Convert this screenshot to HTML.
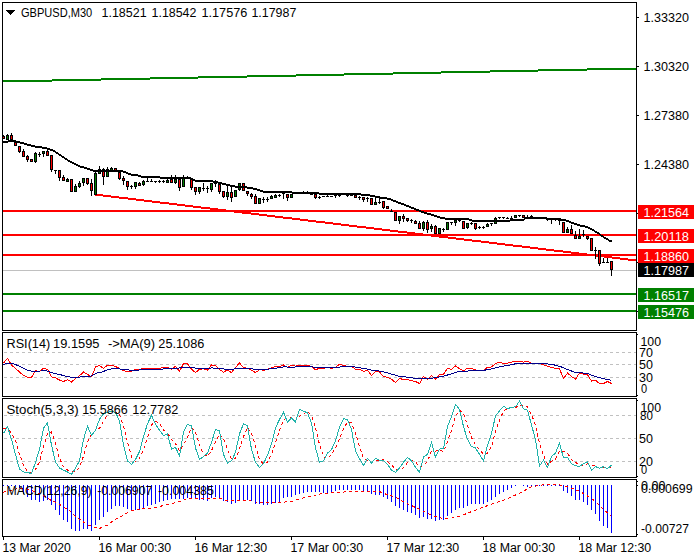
<!DOCTYPE html>
<html lang="en"><head><meta charset="utf-8"><title>GBPUSD,M30</title>
<style>html,body{margin:0;padding:0;background:#fff}svg{display:block}text{font-family:"Liberation Sans",sans-serif;font-size:12px}</style>
</head><body>
<svg width="700" height="560" viewBox="0 0 700 560">
<rect x="0" y="0" width="700" height="560" fill="#fff"/>
<g shape-rendering="crispEdges">
<rect x="3" y="270" width="633" height="1" fill="#c0c0c0"/>
<rect x="3" y="80" width="49" height="2" fill="#008000"/>
<rect x="52" y="79" width="49" height="2" fill="#008000"/>
<rect x="101" y="78" width="49" height="2" fill="#008000"/>
<rect x="150" y="77" width="48" height="2" fill="#008000"/>
<rect x="198" y="76" width="49" height="2" fill="#008000"/>
<rect x="247" y="75" width="49" height="2" fill="#008000"/>
<rect x="296" y="74" width="48" height="2" fill="#008000"/>
<rect x="344" y="73" width="49" height="2" fill="#008000"/>
<rect x="393" y="72" width="48" height="2" fill="#008000"/>
<rect x="441" y="71" width="49" height="2" fill="#008000"/>
<rect x="490" y="70" width="48" height="2" fill="#008000"/>
<rect x="538" y="69" width="49" height="2" fill="#008000"/>
<rect x="587" y="68" width="50" height="2" fill="#008000"/>
<rect x="3" y="210" width="634" height="2" fill="#ff0000"/>
<rect x="3" y="234" width="634" height="2" fill="#ff0000"/>
<rect x="3" y="254" width="634" height="2" fill="#ff0000"/>
<rect x="3" y="293" width="634" height="2" fill="#008000"/>
<rect x="3" y="310" width="634" height="2" fill="#008000"/>
<rect x="95" y="194" width="8" height="2" fill="#ff0000"/>
<rect x="103" y="195" width="8" height="2" fill="#ff0000"/>
<rect x="111" y="196" width="8" height="2" fill="#ff0000"/>
<rect x="119" y="197" width="9" height="2" fill="#ff0000"/>
<rect x="128" y="198" width="8" height="2" fill="#ff0000"/>
<rect x="136" y="199" width="8" height="2" fill="#ff0000"/>
<rect x="144" y="200" width="8" height="2" fill="#ff0000"/>
<rect x="152" y="201" width="8" height="2" fill="#ff0000"/>
<rect x="160" y="202" width="9" height="2" fill="#ff0000"/>
<rect x="169" y="203" width="8" height="2" fill="#ff0000"/>
<rect x="177" y="204" width="8" height="2" fill="#ff0000"/>
<rect x="185" y="205" width="8" height="2" fill="#ff0000"/>
<rect x="193" y="206" width="8" height="2" fill="#ff0000"/>
<rect x="201" y="207" width="9" height="2" fill="#ff0000"/>
<rect x="210" y="208" width="8" height="2" fill="#ff0000"/>
<rect x="218" y="209" width="8" height="2" fill="#ff0000"/>
<rect x="226" y="210" width="8" height="2" fill="#ff0000"/>
<rect x="234" y="211" width="8" height="2" fill="#ff0000"/>
<rect x="242" y="212" width="9" height="2" fill="#ff0000"/>
<rect x="251" y="213" width="8" height="2" fill="#ff0000"/>
<rect x="259" y="214" width="8" height="2" fill="#ff0000"/>
<rect x="267" y="215" width="8" height="2" fill="#ff0000"/>
<rect x="275" y="216" width="8" height="2" fill="#ff0000"/>
<rect x="283" y="217" width="9" height="2" fill="#ff0000"/>
<rect x="292" y="218" width="8" height="2" fill="#ff0000"/>
<rect x="300" y="219" width="8" height="2" fill="#ff0000"/>
<rect x="308" y="220" width="8" height="2" fill="#ff0000"/>
<rect x="316" y="221" width="9" height="2" fill="#ff0000"/>
<rect x="325" y="222" width="8" height="2" fill="#ff0000"/>
<rect x="333" y="223" width="8" height="2" fill="#ff0000"/>
<rect x="341" y="224" width="8" height="2" fill="#ff0000"/>
<rect x="349" y="225" width="8" height="2" fill="#ff0000"/>
<rect x="357" y="226" width="9" height="2" fill="#ff0000"/>
<rect x="366" y="227" width="8" height="2" fill="#ff0000"/>
<rect x="374" y="228" width="8" height="2" fill="#ff0000"/>
<rect x="382" y="229" width="8" height="2" fill="#ff0000"/>
<rect x="390" y="230" width="8" height="2" fill="#ff0000"/>
<rect x="398" y="231" width="9" height="2" fill="#ff0000"/>
<rect x="407" y="232" width="8" height="2" fill="#ff0000"/>
<rect x="415" y="233" width="8" height="2" fill="#ff0000"/>
<rect x="423" y="234" width="8" height="2" fill="#ff0000"/>
<rect x="431" y="235" width="8" height="2" fill="#ff0000"/>
<rect x="439" y="236" width="9" height="2" fill="#ff0000"/>
<rect x="448" y="237" width="8" height="2" fill="#ff0000"/>
<rect x="456" y="238" width="8" height="2" fill="#ff0000"/>
<rect x="464" y="239" width="8" height="2" fill="#ff0000"/>
<rect x="472" y="240" width="9" height="2" fill="#ff0000"/>
<rect x="481" y="241" width="8" height="2" fill="#ff0000"/>
<rect x="489" y="242" width="8" height="2" fill="#ff0000"/>
<rect x="497" y="243" width="8" height="2" fill="#ff0000"/>
<rect x="505" y="244" width="8" height="2" fill="#ff0000"/>
<rect x="513" y="245" width="9" height="2" fill="#ff0000"/>
<rect x="522" y="246" width="8" height="2" fill="#ff0000"/>
<rect x="530" y="247" width="8" height="2" fill="#ff0000"/>
<rect x="538" y="248" width="8" height="2" fill="#ff0000"/>
<rect x="546" y="249" width="8" height="2" fill="#ff0000"/>
<rect x="554" y="250" width="9" height="2" fill="#ff0000"/>
<rect x="563" y="251" width="8" height="2" fill="#ff0000"/>
<rect x="571" y="252" width="8" height="2" fill="#ff0000"/>
<rect x="579" y="253" width="8" height="2" fill="#ff0000"/>
<rect x="587" y="254" width="8" height="2" fill="#ff0000"/>
<rect x="595" y="255" width="9" height="2" fill="#ff0000"/>
<rect x="604" y="256" width="8" height="2" fill="#ff0000"/>
<rect x="612" y="257" width="8" height="2" fill="#ff0000"/>
<rect x="620" y="258" width="8" height="2" fill="#ff0000"/>
<rect x="628" y="259" width="8" height="2" fill="#ff0000"/>
<rect x="636" y="260" width="1" height="2" fill="#ff0000"/>
<rect x="3" y="135" width="1" height="4" fill="#000"/>
<rect x="2" y="136" width="3" height="3" fill="#000"/>
<rect x="3" y="137" width="1" height="1" fill="#ff0000"/>
<rect x="7" y="134" width="1" height="6" fill="#000"/>
<rect x="6" y="135" width="3" height="5" fill="#000"/>
<rect x="7" y="136" width="1" height="3" fill="#008000"/>
<rect x="11" y="133" width="1" height="9" fill="#000"/>
<rect x="10" y="135" width="3" height="5" fill="#000"/>
<rect x="11" y="136" width="1" height="3" fill="#ff0000"/>
<rect x="15" y="142" width="1" height="4" fill="#000"/>
<rect x="14" y="142" width="3" height="4" fill="#000"/>
<rect x="15" y="143" width="1" height="2" fill="#ff0000"/>
<rect x="19" y="146" width="1" height="7" fill="#000"/>
<rect x="18" y="146" width="3" height="6" fill="#000"/>
<rect x="19" y="147" width="1" height="4" fill="#ff0000"/>
<rect x="23" y="149" width="1" height="8" fill="#000"/>
<rect x="22" y="151" width="3" height="6" fill="#000"/>
<rect x="23" y="152" width="1" height="4" fill="#ff0000"/>
<rect x="27" y="155" width="1" height="7" fill="#000"/>
<rect x="26" y="156" width="3" height="4" fill="#000"/>
<rect x="27" y="157" width="1" height="2" fill="#ff0000"/>
<rect x="31" y="159" width="1" height="2" fill="#000"/>
<rect x="30" y="159" width="3" height="3" fill="#000"/>
<rect x="31" y="160" width="1" height="1" fill="#ff0000"/>
<rect x="35" y="152" width="1" height="11" fill="#000"/>
<rect x="34" y="153" width="3" height="9" fill="#000"/>
<rect x="35" y="154" width="1" height="7" fill="#008000"/>
<rect x="39" y="152" width="1" height="5" fill="#000"/>
<rect x="38" y="154" width="3" height="1" fill="#000"/>
<rect x="43" y="151" width="1" height="6" fill="#000"/>
<rect x="42" y="151" width="3" height="3" fill="#000"/>
<rect x="43" y="152" width="1" height="1" fill="#008000"/>
<rect x="47" y="149" width="1" height="7" fill="#000"/>
<rect x="46" y="151" width="3" height="5" fill="#000"/>
<rect x="47" y="152" width="1" height="3" fill="#ff0000"/>
<rect x="51" y="155" width="1" height="17" fill="#000"/>
<rect x="50" y="155" width="3" height="15" fill="#000"/>
<rect x="51" y="156" width="1" height="13" fill="#ff0000"/>
<rect x="55" y="170" width="1" height="4" fill="#000"/>
<rect x="54" y="170" width="3" height="1" fill="#000"/>
<rect x="59" y="170" width="1" height="11" fill="#000"/>
<rect x="58" y="170" width="3" height="8" fill="#000"/>
<rect x="59" y="171" width="1" height="6" fill="#ff0000"/>
<rect x="63" y="175" width="1" height="6" fill="#000"/>
<rect x="62" y="177" width="3" height="4" fill="#000"/>
<rect x="63" y="178" width="1" height="2" fill="#ff0000"/>
<rect x="67" y="178" width="1" height="3" fill="#000"/>
<rect x="66" y="179" width="3" height="3" fill="#000"/>
<rect x="67" y="180" width="1" height="1" fill="#008000"/>
<rect x="71" y="179" width="1" height="13" fill="#000"/>
<rect x="70" y="179" width="3" height="13" fill="#000"/>
<rect x="71" y="180" width="1" height="11" fill="#ff0000"/>
<rect x="75" y="184" width="1" height="8" fill="#000"/>
<rect x="74" y="186" width="3" height="6" fill="#000"/>
<rect x="75" y="187" width="1" height="4" fill="#008000"/>
<rect x="79" y="181" width="1" height="7" fill="#000"/>
<rect x="78" y="183" width="3" height="4" fill="#000"/>
<rect x="79" y="184" width="1" height="2" fill="#008000"/>
<rect x="83" y="178" width="1" height="8" fill="#000"/>
<rect x="82" y="178" width="3" height="5" fill="#000"/>
<rect x="83" y="179" width="1" height="3" fill="#008000"/>
<rect x="87" y="178" width="1" height="7" fill="#000"/>
<rect x="86" y="178" width="3" height="6" fill="#000"/>
<rect x="87" y="179" width="1" height="4" fill="#ff0000"/>
<rect x="91" y="179" width="1" height="17" fill="#000"/>
<rect x="90" y="183" width="3" height="8" fill="#000"/>
<rect x="91" y="184" width="1" height="6" fill="#ff0000"/>
<rect x="95" y="172" width="1" height="23" fill="#000"/>
<rect x="94" y="173" width="3" height="22" fill="#000"/>
<rect x="95" y="174" width="1" height="20" fill="#008000"/>
<rect x="99" y="166" width="1" height="8" fill="#000"/>
<rect x="98" y="169" width="3" height="5" fill="#000"/>
<rect x="99" y="170" width="1" height="3" fill="#008000"/>
<rect x="103" y="168" width="1" height="17" fill="#000"/>
<rect x="102" y="169" width="3" height="8" fill="#000"/>
<rect x="103" y="170" width="1" height="6" fill="#ff0000"/>
<rect x="107" y="167" width="1" height="10" fill="#000"/>
<rect x="106" y="169" width="3" height="8" fill="#000"/>
<rect x="107" y="170" width="1" height="6" fill="#008000"/>
<rect x="111" y="167" width="1" height="3" fill="#000"/>
<rect x="110" y="168" width="3" height="3" fill="#000"/>
<rect x="111" y="169" width="1" height="1" fill="#008000"/>
<rect x="115" y="168" width="1" height="3" fill="#000"/>
<rect x="114" y="168" width="3" height="3" fill="#000"/>
<rect x="115" y="169" width="1" height="1" fill="#ff0000"/>
<rect x="119" y="172" width="1" height="8" fill="#000"/>
<rect x="118" y="172" width="3" height="7" fill="#000"/>
<rect x="119" y="173" width="1" height="5" fill="#ff0000"/>
<rect x="123" y="176" width="1" height="9" fill="#000"/>
<rect x="122" y="178" width="3" height="3" fill="#000"/>
<rect x="123" y="179" width="1" height="1" fill="#ff0000"/>
<rect x="127" y="181" width="1" height="9" fill="#000"/>
<rect x="126" y="181" width="3" height="6" fill="#000"/>
<rect x="127" y="182" width="1" height="4" fill="#ff0000"/>
<rect x="131" y="185" width="1" height="4" fill="#000"/>
<rect x="130" y="186" width="3" height="1" fill="#000"/>
<rect x="135" y="182" width="1" height="7" fill="#000"/>
<rect x="134" y="182" width="3" height="5" fill="#000"/>
<rect x="135" y="183" width="1" height="3" fill="#008000"/>
<rect x="139" y="182" width="1" height="3" fill="#000"/>
<rect x="138" y="183" width="3" height="3" fill="#000"/>
<rect x="139" y="184" width="1" height="1" fill="#ff0000"/>
<rect x="143" y="180" width="1" height="6" fill="#000"/>
<rect x="142" y="181" width="3" height="4" fill="#000"/>
<rect x="143" y="182" width="1" height="2" fill="#008000"/>
<rect x="147" y="178" width="1" height="4" fill="#000"/>
<rect x="146" y="181" width="3" height="1" fill="#000"/>
<rect x="151" y="179" width="1" height="3" fill="#000"/>
<rect x="150" y="181" width="3" height="1" fill="#000"/>
<rect x="155" y="181" width="1" height="2" fill="#000"/>
<rect x="154" y="181" width="3" height="1" fill="#000"/>
<rect x="159" y="180" width="1" height="3" fill="#000"/>
<rect x="158" y="181" width="3" height="1" fill="#000"/>
<rect x="163" y="180" width="1" height="3" fill="#000"/>
<rect x="162" y="181" width="3" height="1" fill="#000"/>
<rect x="167" y="179" width="1" height="4" fill="#000"/>
<rect x="166" y="180" width="3" height="3" fill="#000"/>
<rect x="167" y="181" width="1" height="1" fill="#008000"/>
<rect x="171" y="175" width="1" height="8" fill="#000"/>
<rect x="170" y="179" width="3" height="4" fill="#000"/>
<rect x="171" y="180" width="1" height="2" fill="#ff0000"/>
<rect x="175" y="175" width="1" height="9" fill="#000"/>
<rect x="174" y="179" width="3" height="4" fill="#000"/>
<rect x="175" y="180" width="1" height="2" fill="#008000"/>
<rect x="179" y="179" width="1" height="12" fill="#000"/>
<rect x="178" y="179" width="3" height="9" fill="#000"/>
<rect x="179" y="180" width="1" height="7" fill="#ff0000"/>
<rect x="183" y="175" width="1" height="12" fill="#000"/>
<rect x="182" y="177" width="3" height="10" fill="#000"/>
<rect x="183" y="178" width="1" height="8" fill="#008000"/>
<rect x="187" y="176" width="1" height="2" fill="#000"/>
<rect x="186" y="177" width="3" height="1" fill="#000"/>
<rect x="191" y="178" width="1" height="12" fill="#000"/>
<rect x="190" y="178" width="3" height="10" fill="#000"/>
<rect x="191" y="179" width="1" height="8" fill="#ff0000"/>
<rect x="195" y="187" width="1" height="8" fill="#000"/>
<rect x="194" y="187" width="3" height="5" fill="#000"/>
<rect x="195" y="188" width="1" height="3" fill="#ff0000"/>
<rect x="199" y="187" width="1" height="7" fill="#000"/>
<rect x="198" y="187" width="3" height="5" fill="#000"/>
<rect x="199" y="188" width="1" height="3" fill="#008000"/>
<rect x="203" y="183" width="1" height="8" fill="#000"/>
<rect x="202" y="188" width="3" height="1" fill="#000"/>
<rect x="207" y="186" width="1" height="7" fill="#000"/>
<rect x="206" y="188" width="3" height="1" fill="#000"/>
<rect x="211" y="183" width="1" height="9" fill="#000"/>
<rect x="210" y="183" width="3" height="7" fill="#000"/>
<rect x="211" y="184" width="1" height="5" fill="#008000"/>
<rect x="215" y="180" width="1" height="7" fill="#000"/>
<rect x="214" y="183" width="3" height="1" fill="#000"/>
<rect x="219" y="184" width="1" height="10" fill="#000"/>
<rect x="218" y="184" width="3" height="8" fill="#000"/>
<rect x="219" y="185" width="1" height="6" fill="#ff0000"/>
<rect x="223" y="191" width="1" height="7" fill="#000"/>
<rect x="222" y="191" width="3" height="6" fill="#000"/>
<rect x="223" y="192" width="1" height="4" fill="#ff0000"/>
<rect x="227" y="186" width="1" height="14" fill="#000"/>
<rect x="226" y="192" width="3" height="5" fill="#000"/>
<rect x="227" y="193" width="1" height="3" fill="#008000"/>
<rect x="231" y="187" width="1" height="15" fill="#000"/>
<rect x="230" y="192" width="3" height="6" fill="#000"/>
<rect x="231" y="193" width="1" height="4" fill="#ff0000"/>
<rect x="235" y="190" width="1" height="7" fill="#000"/>
<rect x="234" y="190" width="3" height="7" fill="#000"/>
<rect x="235" y="191" width="1" height="5" fill="#008000"/>
<rect x="239" y="183" width="1" height="8" fill="#000"/>
<rect x="238" y="183" width="3" height="7" fill="#000"/>
<rect x="239" y="184" width="1" height="5" fill="#008000"/>
<rect x="243" y="183" width="1" height="8" fill="#000"/>
<rect x="242" y="183" width="3" height="8" fill="#000"/>
<rect x="243" y="184" width="1" height="6" fill="#ff0000"/>
<rect x="247" y="191" width="1" height="5" fill="#000"/>
<rect x="246" y="191" width="3" height="3" fill="#000"/>
<rect x="247" y="192" width="1" height="1" fill="#ff0000"/>
<rect x="251" y="193" width="1" height="6" fill="#000"/>
<rect x="250" y="194" width="3" height="3" fill="#000"/>
<rect x="251" y="195" width="1" height="1" fill="#ff0000"/>
<rect x="255" y="194" width="1" height="10" fill="#000"/>
<rect x="254" y="196" width="3" height="8" fill="#000"/>
<rect x="255" y="197" width="1" height="6" fill="#ff0000"/>
<rect x="259" y="198" width="1" height="6" fill="#000"/>
<rect x="258" y="198" width="3" height="6" fill="#000"/>
<rect x="259" y="199" width="1" height="4" fill="#008000"/>
<rect x="263" y="197" width="1" height="6" fill="#000"/>
<rect x="262" y="199" width="3" height="1" fill="#000"/>
<rect x="267" y="197" width="1" height="5" fill="#000"/>
<rect x="266" y="199" width="3" height="1" fill="#000"/>
<rect x="271" y="195" width="1" height="3" fill="#000"/>
<rect x="270" y="196" width="3" height="3" fill="#000"/>
<rect x="271" y="197" width="1" height="1" fill="#008000"/>
<rect x="275" y="194" width="1" height="4" fill="#000"/>
<rect x="274" y="195" width="3" height="3" fill="#000"/>
<rect x="275" y="196" width="1" height="1" fill="#008000"/>
<rect x="279" y="194" width="1" height="3" fill="#000"/>
<rect x="278" y="195" width="3" height="1" fill="#000"/>
<rect x="283" y="193" width="1" height="6" fill="#000"/>
<rect x="282" y="193" width="3" height="1" fill="#000"/>
<rect x="287" y="194" width="1" height="7" fill="#000"/>
<rect x="286" y="194" width="3" height="4" fill="#000"/>
<rect x="287" y="195" width="1" height="2" fill="#ff0000"/>
<rect x="291" y="194" width="1" height="4" fill="#000"/>
<rect x="290" y="194" width="3" height="4" fill="#000"/>
<rect x="291" y="195" width="1" height="2" fill="#008000"/>
<rect x="295" y="193" width="1" height="1" fill="#000"/>
<rect x="294" y="193" width="3" height="1" fill="#000"/>
<rect x="299" y="193" width="1" height="1" fill="#000"/>
<rect x="298" y="193" width="3" height="1" fill="#000"/>
<rect x="303" y="191" width="1" height="2" fill="#000"/>
<rect x="302" y="192" width="3" height="1" fill="#000"/>
<rect x="307" y="191" width="1" height="2" fill="#000"/>
<rect x="306" y="192" width="3" height="1" fill="#000"/>
<rect x="311" y="193" width="1" height="2" fill="#000"/>
<rect x="310" y="194" width="3" height="1" fill="#000"/>
<rect x="315" y="194" width="1" height="5" fill="#000"/>
<rect x="314" y="194" width="3" height="4" fill="#000"/>
<rect x="315" y="195" width="1" height="2" fill="#ff0000"/>
<rect x="319" y="196" width="1" height="3" fill="#000"/>
<rect x="318" y="197" width="3" height="1" fill="#000"/>
<rect x="323" y="196" width="1" height="1" fill="#000"/>
<rect x="322" y="196" width="3" height="1" fill="#000"/>
<rect x="327" y="195" width="1" height="2" fill="#000"/>
<rect x="326" y="196" width="3" height="1" fill="#000"/>
<rect x="331" y="196" width="1" height="1" fill="#000"/>
<rect x="330" y="196" width="3" height="1" fill="#000"/>
<rect x="335" y="195" width="1" height="3" fill="#000"/>
<rect x="334" y="195" width="3" height="1" fill="#000"/>
<rect x="339" y="195" width="1" height="2" fill="#000"/>
<rect x="338" y="195" width="3" height="1" fill="#000"/>
<rect x="343" y="194" width="1" height="1" fill="#000"/>
<rect x="342" y="194" width="3" height="1" fill="#000"/>
<rect x="347" y="195" width="1" height="2" fill="#000"/>
<rect x="346" y="195" width="3" height="1" fill="#000"/>
<rect x="351" y="195" width="1" height="1" fill="#000"/>
<rect x="350" y="195" width="3" height="1" fill="#000"/>
<rect x="355" y="195" width="1" height="2" fill="#000"/>
<rect x="354" y="195" width="3" height="3" fill="#000"/>
<rect x="355" y="196" width="1" height="1" fill="#ff0000"/>
<rect x="359" y="196" width="1" height="4" fill="#000"/>
<rect x="358" y="197" width="3" height="1" fill="#000"/>
<rect x="363" y="197" width="1" height="5" fill="#000"/>
<rect x="362" y="197" width="3" height="3" fill="#000"/>
<rect x="363" y="198" width="1" height="1" fill="#ff0000"/>
<rect x="367" y="197" width="1" height="5" fill="#000"/>
<rect x="366" y="198" width="3" height="1" fill="#000"/>
<rect x="371" y="198" width="1" height="7" fill="#000"/>
<rect x="370" y="198" width="3" height="7" fill="#000"/>
<rect x="371" y="199" width="1" height="5" fill="#ff0000"/>
<rect x="375" y="197" width="1" height="7" fill="#000"/>
<rect x="374" y="202" width="3" height="3" fill="#000"/>
<rect x="375" y="203" width="1" height="1" fill="#008000"/>
<rect x="379" y="197" width="1" height="7" fill="#000"/>
<rect x="378" y="202" width="3" height="1" fill="#000"/>
<rect x="383" y="201" width="1" height="8" fill="#000"/>
<rect x="382" y="201" width="3" height="7" fill="#000"/>
<rect x="383" y="202" width="1" height="5" fill="#ff0000"/>
<rect x="387" y="206" width="1" height="3" fill="#000"/>
<rect x="386" y="206" width="3" height="3" fill="#000"/>
<rect x="387" y="207" width="1" height="1" fill="#ff0000"/>
<rect x="391" y="209" width="1" height="3" fill="#000"/>
<rect x="390" y="211" width="3" height="1" fill="#000"/>
<rect x="395" y="212" width="1" height="9" fill="#000"/>
<rect x="394" y="212" width="3" height="9" fill="#000"/>
<rect x="395" y="213" width="1" height="7" fill="#ff0000"/>
<rect x="399" y="216" width="1" height="8" fill="#000"/>
<rect x="398" y="216" width="3" height="5" fill="#000"/>
<rect x="399" y="217" width="1" height="3" fill="#008000"/>
<rect x="403" y="214" width="1" height="8" fill="#000"/>
<rect x="402" y="216" width="3" height="3" fill="#000"/>
<rect x="403" y="217" width="1" height="1" fill="#ff0000"/>
<rect x="407" y="218" width="1" height="4" fill="#000"/>
<rect x="406" y="218" width="3" height="3" fill="#000"/>
<rect x="407" y="219" width="1" height="1" fill="#ff0000"/>
<rect x="411" y="219" width="1" height="4" fill="#000"/>
<rect x="410" y="220" width="3" height="1" fill="#000"/>
<rect x="415" y="220" width="1" height="3" fill="#000"/>
<rect x="414" y="221" width="3" height="3" fill="#000"/>
<rect x="415" y="222" width="1" height="1" fill="#ff0000"/>
<rect x="419" y="221" width="1" height="8" fill="#000"/>
<rect x="418" y="223" width="3" height="6" fill="#000"/>
<rect x="419" y="224" width="1" height="4" fill="#ff0000"/>
<rect x="423" y="221" width="1" height="10" fill="#000"/>
<rect x="422" y="222" width="3" height="7" fill="#000"/>
<rect x="423" y="223" width="1" height="5" fill="#008000"/>
<rect x="427" y="220" width="1" height="13" fill="#000"/>
<rect x="426" y="222" width="3" height="8" fill="#000"/>
<rect x="427" y="223" width="1" height="6" fill="#ff0000"/>
<rect x="431" y="224" width="1" height="8" fill="#000"/>
<rect x="430" y="226" width="3" height="3" fill="#000"/>
<rect x="431" y="227" width="1" height="1" fill="#008000"/>
<rect x="435" y="225" width="1" height="9" fill="#000"/>
<rect x="434" y="226" width="3" height="8" fill="#000"/>
<rect x="435" y="227" width="1" height="6" fill="#ff0000"/>
<rect x="439" y="228" width="1" height="6" fill="#000"/>
<rect x="438" y="228" width="3" height="6" fill="#000"/>
<rect x="439" y="229" width="1" height="4" fill="#008000"/>
<rect x="443" y="228" width="1" height="4" fill="#000"/>
<rect x="442" y="229" width="3" height="1" fill="#000"/>
<rect x="447" y="222" width="1" height="8" fill="#000"/>
<rect x="446" y="222" width="3" height="8" fill="#000"/>
<rect x="447" y="223" width="1" height="6" fill="#008000"/>
<rect x="451" y="222" width="1" height="3" fill="#000"/>
<rect x="450" y="222" width="3" height="1" fill="#000"/>
<rect x="455" y="220" width="1" height="6" fill="#000"/>
<rect x="454" y="220" width="3" height="3" fill="#000"/>
<rect x="455" y="221" width="1" height="1" fill="#008000"/>
<rect x="459" y="220" width="1" height="2" fill="#000"/>
<rect x="458" y="220" width="3" height="1" fill="#000"/>
<rect x="463" y="221" width="1" height="8" fill="#000"/>
<rect x="462" y="221" width="3" height="8" fill="#000"/>
<rect x="463" y="222" width="1" height="6" fill="#ff0000"/>
<rect x="467" y="223" width="1" height="6" fill="#000"/>
<rect x="466" y="223" width="3" height="5" fill="#000"/>
<rect x="467" y="224" width="1" height="3" fill="#008000"/>
<rect x="471" y="222" width="1" height="3" fill="#000"/>
<rect x="470" y="223" width="3" height="1" fill="#000"/>
<rect x="475" y="223" width="1" height="7" fill="#000"/>
<rect x="474" y="223" width="3" height="6" fill="#000"/>
<rect x="475" y="224" width="1" height="4" fill="#ff0000"/>
<rect x="479" y="226" width="1" height="3" fill="#000"/>
<rect x="478" y="227" width="3" height="1" fill="#000"/>
<rect x="483" y="226" width="1" height="3" fill="#000"/>
<rect x="482" y="227" width="3" height="1" fill="#000"/>
<rect x="487" y="223" width="1" height="4" fill="#000"/>
<rect x="486" y="224" width="3" height="3" fill="#000"/>
<rect x="487" y="225" width="1" height="1" fill="#008000"/>
<rect x="491" y="223" width="1" height="3" fill="#000"/>
<rect x="490" y="223" width="3" height="1" fill="#000"/>
<rect x="495" y="217" width="1" height="7" fill="#000"/>
<rect x="494" y="218" width="3" height="6" fill="#000"/>
<rect x="495" y="219" width="1" height="4" fill="#008000"/>
<rect x="499" y="217" width="1" height="2" fill="#000"/>
<rect x="498" y="217" width="3" height="1" fill="#000"/>
<rect x="503" y="217" width="1" height="2" fill="#000"/>
<rect x="502" y="217" width="3" height="1" fill="#000"/>
<rect x="507" y="217" width="1" height="2" fill="#000"/>
<rect x="506" y="218" width="3" height="1" fill="#000"/>
<rect x="511" y="216" width="1" height="3" fill="#000"/>
<rect x="510" y="218" width="3" height="1" fill="#000"/>
<rect x="515" y="215" width="1" height="2" fill="#000"/>
<rect x="514" y="215" width="3" height="3" fill="#000"/>
<rect x="515" y="216" width="1" height="1" fill="#008000"/>
<rect x="519" y="215" width="1" height="2" fill="#000"/>
<rect x="518" y="215" width="3" height="1" fill="#000"/>
<rect x="523" y="215" width="1" height="2" fill="#000"/>
<rect x="522" y="215" width="3" height="3" fill="#000"/>
<rect x="523" y="216" width="1" height="1" fill="#ff0000"/>
<rect x="527" y="215" width="1" height="3" fill="#000"/>
<rect x="526" y="217" width="3" height="1" fill="#000"/>
<rect x="531" y="215" width="1" height="3" fill="#000"/>
<rect x="530" y="216" width="3" height="3" fill="#000"/>
<rect x="531" y="217" width="1" height="1" fill="#ff0000"/>
<rect x="535" y="217" width="1" height="1" fill="#000"/>
<rect x="534" y="217" width="3" height="1" fill="#000"/>
<rect x="539" y="217" width="1" height="1" fill="#000"/>
<rect x="538" y="217" width="3" height="1" fill="#000"/>
<rect x="543" y="217" width="1" height="1" fill="#000"/>
<rect x="542" y="217" width="3" height="1" fill="#000"/>
<rect x="547" y="218" width="1" height="3" fill="#000"/>
<rect x="546" y="219" width="3" height="1" fill="#000"/>
<rect x="551" y="218" width="1" height="6" fill="#000"/>
<rect x="550" y="219" width="3" height="1" fill="#000"/>
<rect x="555" y="218" width="1" height="3" fill="#000"/>
<rect x="554" y="219" width="3" height="1" fill="#000"/>
<rect x="559" y="219" width="1" height="6" fill="#000"/>
<rect x="558" y="220" width="3" height="1" fill="#000"/>
<rect x="563" y="222" width="1" height="11" fill="#000"/>
<rect x="562" y="222" width="3" height="11" fill="#000"/>
<rect x="563" y="223" width="1" height="9" fill="#ff0000"/>
<rect x="567" y="227" width="1" height="6" fill="#000"/>
<rect x="566" y="229" width="3" height="4" fill="#000"/>
<rect x="567" y="230" width="1" height="2" fill="#008000"/>
<rect x="571" y="225" width="1" height="9" fill="#000"/>
<rect x="570" y="229" width="3" height="5" fill="#000"/>
<rect x="571" y="230" width="1" height="3" fill="#ff0000"/>
<rect x="575" y="231" width="1" height="8" fill="#000"/>
<rect x="574" y="235" width="3" height="4" fill="#000"/>
<rect x="575" y="236" width="1" height="2" fill="#ff0000"/>
<rect x="579" y="229" width="1" height="10" fill="#000"/>
<rect x="578" y="236" width="3" height="3" fill="#000"/>
<rect x="579" y="237" width="1" height="1" fill="#008000"/>
<rect x="583" y="230" width="1" height="7" fill="#000"/>
<rect x="582" y="234" width="3" height="1" fill="#000"/>
<rect x="587" y="236" width="1" height="4" fill="#000"/>
<rect x="586" y="236" width="3" height="3" fill="#000"/>
<rect x="587" y="237" width="1" height="1" fill="#ff0000"/>
<rect x="591" y="238" width="1" height="13" fill="#000"/>
<rect x="590" y="238" width="3" height="13" fill="#000"/>
<rect x="591" y="239" width="1" height="11" fill="#ff0000"/>
<rect x="595" y="247" width="1" height="12" fill="#000"/>
<rect x="594" y="250" width="3" height="1" fill="#000"/>
<rect x="599" y="250" width="1" height="16" fill="#000"/>
<rect x="598" y="250" width="3" height="14" fill="#000"/>
<rect x="599" y="251" width="1" height="12" fill="#ff0000"/>
<rect x="603" y="258" width="1" height="5" fill="#000"/>
<rect x="602" y="262" width="3" height="1" fill="#000"/>
<rect x="607" y="258" width="1" height="5" fill="#000"/>
<rect x="606" y="262" width="3" height="1" fill="#000"/>
<rect x="611" y="261" width="1" height="15" fill="#000"/>
<rect x="610" y="261" width="3" height="9" fill="#000"/>
<rect x="611" y="262" width="1" height="7" fill="#ff0000"/>
<rect x="3" y="141" width="5" height="2" fill="#000"/>
<rect x="8" y="140" width="8" height="2" fill="#000"/>
<rect x="16" y="141" width="4" height="2" fill="#000"/>
<rect x="20" y="142" width="4" height="2" fill="#000"/>
<rect x="24" y="143" width="3" height="2" fill="#000"/>
<rect x="27" y="144" width="4" height="2" fill="#000"/>
<rect x="31" y="145" width="4" height="2" fill="#000"/>
<rect x="35" y="146" width="7" height="2" fill="#000"/>
<rect x="42" y="147" width="5" height="2" fill="#000"/>
<rect x="47" y="148" width="3" height="2" fill="#000"/>
<rect x="50" y="149" width="3" height="2" fill="#000"/>
<rect x="53" y="150" width="2" height="2" fill="#000"/>
<rect x="55" y="151" width="1" height="2" fill="#000"/>
<rect x="56" y="152" width="2" height="2" fill="#000"/>
<rect x="58" y="153" width="1" height="2" fill="#000"/>
<rect x="59" y="154" width="2" height="2" fill="#000"/>
<rect x="61" y="155" width="1" height="2" fill="#000"/>
<rect x="62" y="156" width="2" height="2" fill="#000"/>
<rect x="64" y="157" width="1" height="2" fill="#000"/>
<rect x="65" y="158" width="2" height="2" fill="#000"/>
<rect x="67" y="159" width="1" height="2" fill="#000"/>
<rect x="68" y="160" width="2" height="2" fill="#000"/>
<rect x="70" y="161" width="2" height="2" fill="#000"/>
<rect x="72" y="162" width="2" height="2" fill="#000"/>
<rect x="74" y="163" width="2" height="2" fill="#000"/>
<rect x="76" y="164" width="2" height="2" fill="#000"/>
<rect x="78" y="165" width="2" height="2" fill="#000"/>
<rect x="80" y="166" width="4" height="2" fill="#000"/>
<rect x="84" y="167" width="3" height="2" fill="#000"/>
<rect x="87" y="168" width="3" height="2" fill="#000"/>
<rect x="90" y="169" width="3" height="2" fill="#000"/>
<rect x="93" y="170" width="30" height="2" fill="#000"/>
<rect x="123" y="171" width="3" height="2" fill="#000"/>
<rect x="126" y="172" width="2" height="2" fill="#000"/>
<rect x="128" y="173" width="3" height="2" fill="#000"/>
<rect x="131" y="174" width="7" height="2" fill="#000"/>
<rect x="138" y="175" width="3" height="2" fill="#000"/>
<rect x="141" y="176" width="19" height="2" fill="#000"/>
<rect x="160" y="177" width="31" height="2" fill="#000"/>
<rect x="191" y="178" width="2" height="2" fill="#000"/>
<rect x="193" y="179" width="2" height="2" fill="#000"/>
<rect x="195" y="180" width="18" height="2" fill="#000"/>
<rect x="213" y="181" width="5" height="2" fill="#000"/>
<rect x="218" y="182" width="4" height="2" fill="#000"/>
<rect x="222" y="183" width="4" height="2" fill="#000"/>
<rect x="226" y="184" width="4" height="2" fill="#000"/>
<rect x="230" y="185" width="5" height="2" fill="#000"/>
<rect x="235" y="186" width="12" height="2" fill="#000"/>
<rect x="247" y="187" width="6" height="2" fill="#000"/>
<rect x="253" y="188" width="4" height="2" fill="#000"/>
<rect x="257" y="189" width="3" height="2" fill="#000"/>
<rect x="260" y="190" width="3" height="2" fill="#000"/>
<rect x="263" y="191" width="29" height="2" fill="#000"/>
<rect x="292" y="192" width="27" height="2" fill="#000"/>
<rect x="319" y="193" width="42" height="2" fill="#000"/>
<rect x="361" y="194" width="9" height="2" fill="#000"/>
<rect x="370" y="195" width="5" height="2" fill="#000"/>
<rect x="375" y="196" width="5" height="2" fill="#000"/>
<rect x="380" y="197" width="7" height="2" fill="#000"/>
<rect x="387" y="198" width="4" height="2" fill="#000"/>
<rect x="391" y="199" width="2" height="2" fill="#000"/>
<rect x="393" y="200" width="3" height="2" fill="#000"/>
<rect x="396" y="201" width="2" height="2" fill="#000"/>
<rect x="398" y="202" width="3" height="2" fill="#000"/>
<rect x="401" y="203" width="3" height="2" fill="#000"/>
<rect x="404" y="204" width="2" height="2" fill="#000"/>
<rect x="406" y="205" width="3" height="2" fill="#000"/>
<rect x="409" y="206" width="2" height="2" fill="#000"/>
<rect x="411" y="207" width="3" height="2" fill="#000"/>
<rect x="414" y="208" width="2" height="2" fill="#000"/>
<rect x="416" y="209" width="3" height="2" fill="#000"/>
<rect x="419" y="210" width="2" height="2" fill="#000"/>
<rect x="421" y="211" width="3" height="2" fill="#000"/>
<rect x="424" y="212" width="3" height="2" fill="#000"/>
<rect x="427" y="213" width="4" height="2" fill="#000"/>
<rect x="431" y="214" width="3" height="2" fill="#000"/>
<rect x="434" y="215" width="3" height="2" fill="#000"/>
<rect x="437" y="216" width="3" height="2" fill="#000"/>
<rect x="440" y="217" width="5" height="2" fill="#000"/>
<rect x="445" y="218" width="24" height="2" fill="#000"/>
<rect x="469" y="219" width="3" height="2" fill="#000"/>
<rect x="472" y="220" width="38" height="2" fill="#000"/>
<rect x="510" y="219" width="14" height="2" fill="#000"/>
<rect x="524" y="218" width="1" height="2" fill="#000"/>
<rect x="525" y="217" width="22" height="2" fill="#000"/>
<rect x="547" y="218" width="14" height="2" fill="#000"/>
<rect x="561" y="219" width="5" height="2" fill="#000"/>
<rect x="566" y="220" width="3" height="2" fill="#000"/>
<rect x="569" y="221" width="2" height="2" fill="#000"/>
<rect x="571" y="222" width="3" height="2" fill="#000"/>
<rect x="574" y="223" width="3" height="2" fill="#000"/>
<rect x="577" y="224" width="3" height="2" fill="#000"/>
<rect x="580" y="225" width="5" height="2" fill="#000"/>
<rect x="585" y="226" width="3" height="2" fill="#000"/>
<rect x="588" y="227" width="2" height="2" fill="#000"/>
<rect x="590" y="228" width="2" height="2" fill="#000"/>
<rect x="592" y="229" width="2" height="2" fill="#000"/>
<rect x="594" y="230" width="1" height="2" fill="#000"/>
<rect x="595" y="231" width="2" height="2" fill="#000"/>
<rect x="597" y="232" width="2" height="2" fill="#000"/>
<rect x="599" y="233" width="1" height="2" fill="#000"/>
<rect x="600" y="234" width="1" height="2" fill="#000"/>
<rect x="601" y="235" width="2" height="2" fill="#000"/>
<rect x="603" y="236" width="1" height="2" fill="#000"/>
<rect x="604" y="237" width="2" height="2" fill="#000"/>
<rect x="606" y="238" width="2" height="2" fill="#000"/>
<rect x="608" y="239" width="1" height="2" fill="#000"/>
<rect x="609" y="240" width="3" height="2" fill="#000"/>
</g>
<g shape-rendering="crispEdges">
<line x1="4" y1="352.5" x2="636" y2="352.5" stroke="#c0c0c0" stroke-width="1" stroke-dasharray="3 3"/>
<line x1="4" y1="364.5" x2="636" y2="364.5" stroke="#c0c0c0" stroke-width="1" stroke-dasharray="3 3"/>
<line x1="4" y1="377.5" x2="636" y2="377.5" stroke="#c0c0c0" stroke-width="1" stroke-dasharray="3 3"/>
<line x1="4" y1="415.5" x2="636" y2="415.5" stroke="#c0c0c0" stroke-width="1" stroke-dasharray="3 3"/>
<line x1="4" y1="438.5" x2="636" y2="438.5" stroke="#c0c0c0" stroke-width="1" stroke-dasharray="3 3"/>
<line x1="4" y1="461.5" x2="636" y2="461.5" stroke="#c0c0c0" stroke-width="1" stroke-dasharray="3 3"/>
<polyline points="3.5,363 7.5,358.3 11.5,365 15.5,368.6 19.5,372 23.5,375.4 27.5,377.4 31.5,377.4 35.5,370.7 39.5,371.4 43.5,368.3 47.5,369.3 51.5,377 55.5,377.9 59.5,380 63.5,381.4 67.5,379.7 71.5,382 75.5,378.6 79.5,375.7 83.5,372 87.5,374.3 91.5,376.9 95.5,366.9 99.5,365.4 103.5,368.6 107.5,365 111.5,365 115.5,366.4 119.5,368.6 123.5,370.7 127.5,371.7 131.5,371.4 135.5,369.3 139.5,369.7 143.5,368.3 147.5,368.3 151.5,368.3 155.5,368.3 159.5,368.3 163.5,367.4 167.5,367.4 171.5,369.3 175.5,366.4 179.5,371.4 183.5,363.6 187.5,364 191.5,369.3 195.5,372.6 199.5,369.3 203.5,368.9 207.5,370.3 211.5,365 215.5,365.7 219.5,369.7 223.5,372.1 227.5,370 231.5,372.6 235.5,367.4 239.5,363.1 243.5,367.4 247.5,368.3 251.5,370.3 255.5,372.6 259.5,369.7 263.5,370.3 267.5,369.3 271.5,367.9 275.5,366.4 279.5,366.9 283.5,365 287.5,367.4 291.5,365.4 295.5,365 299.5,365 303.5,365 307.5,365 311.5,366.4 315.5,369.7 319.5,368.3 323.5,368.3 327.5,367.4 331.5,368.3 335.5,367.4 339.5,364.3 343.5,365.4 347.5,366.4 351.5,366.4 355.5,369.3 359.5,369.3 363.5,371.4 367.5,370.3 371.5,375.4 375.5,371.4 379.5,372.1 383.5,376.4 387.5,377.4 391.5,379.3 395.5,382.6 399.5,378.3 403.5,379.7 407.5,379.7 411.5,380.7 415.5,381.4 419.5,383.6 423.5,376.4 427.5,379.3 431.5,375.4 435.5,379.3 439.5,374.6 443.5,374.3 447.5,368.3 451.5,369.3 455.5,366 459.5,368.6 463.5,370.7 467.5,368.3 471.5,368.3 475.5,370 479.5,370.3 483.5,370.3 487.5,367.4 491.5,366.9 495.5,363.6 499.5,362.1 503.5,363.6 507.5,363.1 511.5,362.1 515.5,361.1 519.5,361.1 523.5,362.1 527.5,361.1 531.5,363.1 535.5,363.6 539.5,363.6 543.5,364.6 547.5,366.4 551.5,367.4 555.5,368.3 559.5,368.9 563.5,378.6 567.5,373.1 571.5,376.4 575.5,379.3 579.5,372.9 583.5,374.3 587.5,374.6 591.5,381.1 595.5,380.3 599.5,383.6 603.5,383.6 607.5,381.4 611.5,383.6" fill="none" stroke="#ff0000" stroke-width="1"/>
<polyline points="3,364.3 8,363.6 14,364 20,366.4 28.6,370.7 34,371.4 45.7,370.7 51.4,372.6 60,374.6 68.6,376.9 77,377.4 85.7,376.4 91.4,376 97,372.9 101.7,372 107.4,370 113,368.3 119,368.9 124.6,369.7 133,370.3 139,370 144.6,369.5 159,369.5 164.6,368.8 176,368.8 181.7,367.4 190.3,367.4 196,368.1 206,368.6 212,367.9 220.6,368.9 232,369.3 237.7,368.3 249,368.3 255,369.3 266,369.3 275,368.3 283.4,366.9 293.7,367.2 299.4,366.4 310.9,366.4 316.6,367.9 336.6,367.9 342.3,366.4 352.3,366.4 356.6,367.4 365,368.6 373.7,370.7 380.9,371.1 389.7,373.6 398.3,376 406.9,377.1 418.3,378.9 426.9,378.3 435.4,377.9 444,376 452.6,373.6 458.3,371.4 466.9,371.1 472.6,370.3 484,370.3 492.9,368.6 501.4,366.4 510,365 518.6,363.1 527,363.6 544.3,363.6 552.9,364.6 560,366.4 567,369.3 574.3,372.1 581.7,372.9 588,373.6 594.6,376.4 603,378.6 611,380.3" fill="none" stroke="#00008b" stroke-width="1"/>
<polyline points="3.5,428.3 7.5,428.7 11.5,433.13 15.5,440.13 19.5,454.3 23.5,465.17 27.5,471.13 31.5,472.67 35.5,469.43 39.5,461.8 43.5,446.57 47.5,433.47 51.5,432.03 55.5,443.37 59.5,458.37 63.5,466.7 67.5,470.03 71.5,472.17 75.5,471.47 79.5,467.77 83.5,456.1 87.5,442.2 91.5,433.7 95.5,430.6 99.5,428.3 103.5,421.07 107.5,415.13 111.5,412.53 115.5,412.07 119.5,414.93 123.5,426.1 127.5,442.3 131.5,456.8 135.5,461.57 139.5,458.47 143.5,449.2 147.5,437.3 151.5,425.23 155.5,421.17 159.5,423.3 163.5,429.97 167.5,433.17 171.5,439.5 175.5,443.47 179.5,450.77 183.5,444.93 187.5,437.3 191.5,427.3 195.5,432.77 199.5,444.43 203.5,454.67 207.5,456.33 211.5,450.63 215.5,441.57 219.5,434.2 223.5,438.23 227.5,449.43 231.5,459.43 235.5,458.73 239.5,448.97 243.5,436.57 247.5,427.77 251.5,433 255.5,445.87 259.5,459.67 263.5,464.43 267.5,462.03 271.5,454.17 275.5,442.27 279.5,430.37 283.5,419.9 287.5,418 291.5,417.53 295.5,420.77 299.5,416.37 303.5,414.07 307.5,411.07 311.5,415.7 315.5,428 319.5,444.43 323.5,457.07 327.5,458.73 331.5,454.53 335.5,447.87 339.5,439.3 343.5,428.97 347.5,421.9 351.5,422.6 355.5,433.33 359.5,446.33 363.5,458.33 367.5,460.8 371.5,462.23 375.5,459.87 379.5,460.47 383.5,459.67 387.5,461.7 391.5,465.03 395.5,468.93 399.5,470.13 403.5,467.53 407.5,462.53 411.5,460.17 415.5,461.83 419.5,466.83 423.5,465.5 427.5,461.2 431.5,451.2 435.5,451.33 439.5,449.57 443.5,451.7 447.5,441.47 451.5,430.63 455.5,415.87 459.5,410.13 463.5,413.47 467.5,425.13 471.5,437.53 475.5,444.67 479.5,449.67 483.5,454.43 487.5,453.47 491.5,446.57 495.5,431.57 499.5,420.17 503.5,411.03 507.5,408.63 511.5,407.43 515.5,407.63 519.5,405.1 523.5,405.57 527.5,406.63 531.5,414.63 535.5,424.87 539.5,443.47 543.5,455.13 547.5,464.43 551.5,461.33 555.5,458.97 559.5,451 563.5,451.47 567.5,452.9 571.5,459.67 575.5,462.3 579.5,465.3 583.5,465.3 587.5,463.87 591.5,465.13 595.5,466.1 599.5,468.33 603.5,467.17 607.5,467.87 611.5,466.8" fill="none" stroke="#ff0000" stroke-width="1" stroke-dasharray="3 3"/>
<polyline points="3.5,433.4 7.5,426.6 11.5,439.4 15.5,454.4 19.5,469.1 23.5,472 27.5,472.3 31.5,473.7 35.5,462.3 39.5,449.4 43.5,428 47.5,423 51.5,445.1 55.5,462 59.5,468 63.5,470.1 67.5,472 71.5,474.4 75.5,468 79.5,460.9 83.5,439.4 87.5,426.3 91.5,435.4 95.5,430.1 99.5,419.4 103.5,413.7 107.5,412.3 111.5,411.6 115.5,412.3 119.5,420.9 123.5,445.1 127.5,460.9 131.5,464.4 135.5,459.4 139.5,451.6 143.5,436.6 147.5,423.7 151.5,415.4 155.5,424.4 159.5,430.1 163.5,435.4 167.5,434 171.5,449.1 175.5,447.3 179.5,455.9 183.5,431.6 187.5,424.4 191.5,425.9 195.5,448 199.5,459.4 203.5,456.6 207.5,453 211.5,442.3 215.5,429.4 219.5,430.9 223.5,454.4 227.5,463 231.5,460.9 235.5,452.3 239.5,433.7 243.5,423.7 247.5,425.9 251.5,449.4 255.5,462.3 259.5,467.3 263.5,463.7 267.5,455.1 271.5,443.7 275.5,428 279.5,419.4 283.5,412.3 287.5,422.3 291.5,418 295.5,422 299.5,409.1 303.5,411.1 307.5,413 311.5,423 315.5,448 319.5,462.3 323.5,460.9 327.5,453 331.5,449.7 335.5,440.9 339.5,427.3 343.5,418.7 347.5,419.7 351.5,429.4 355.5,450.9 359.5,458.7 363.5,465.4 367.5,458.3 371.5,463 375.5,458.3 379.5,460.1 383.5,460.6 387.5,464.4 391.5,470.1 395.5,472.3 399.5,468 403.5,462.3 407.5,457.3 411.5,460.9 415.5,467.3 419.5,472.3 423.5,456.9 427.5,454.4 431.5,442.3 435.5,457.3 439.5,449.1 443.5,448.7 447.5,426.6 451.5,416.6 455.5,404.4 459.5,409.4 463.5,426.6 467.5,439.4 471.5,446.6 475.5,448 479.5,454.4 483.5,460.9 487.5,445.1 491.5,433.7 495.5,415.9 499.5,410.9 503.5,406.3 507.5,408.7 511.5,407.3 515.5,406.9 519.5,401.1 523.5,408.7 527.5,410.1 531.5,425.1 535.5,439.4 539.5,465.9 543.5,460.1 547.5,467.3 551.5,456.6 555.5,453 559.5,443.4 563.5,458 567.5,457.3 571.5,463.7 575.5,465.9 579.5,466.3 583.5,463.7 587.5,461.6 591.5,470.1 595.5,466.6 599.5,468.3 603.5,466.6 607.5,468.7 611.5,465.1" fill="none" stroke="#20b2aa" stroke-width="1"/>
<rect x="3" y="485" width="1" height="1" fill="#0000ff"/>
<rect x="7" y="485" width="1" height="1" fill="#0000ff"/>
<rect x="11" y="485" width="1" height="1" fill="#0000ff"/>
<rect x="15" y="485" width="1" height="1" fill="#0000ff"/>
<rect x="19" y="485" width="1" height="3" fill="#0000ff"/>
<rect x="23" y="485" width="1" height="9" fill="#0000ff"/>
<rect x="27" y="485" width="1" height="12" fill="#0000ff"/>
<rect x="31" y="485" width="1" height="15" fill="#0000ff"/>
<rect x="35" y="485" width="1" height="15" fill="#0000ff"/>
<rect x="39" y="485" width="1" height="17" fill="#0000ff"/>
<rect x="43" y="485" width="1" height="16" fill="#0000ff"/>
<rect x="47" y="485" width="1" height="15" fill="#0000ff"/>
<rect x="51" y="485" width="1" height="20" fill="#0000ff"/>
<rect x="55" y="485" width="1" height="25" fill="#0000ff"/>
<rect x="59" y="485" width="1" height="30" fill="#0000ff"/>
<rect x="63" y="485" width="1" height="35" fill="#0000ff"/>
<rect x="67" y="485" width="1" height="37" fill="#0000ff"/>
<rect x="71" y="485" width="1" height="44" fill="#0000ff"/>
<rect x="75" y="485" width="1" height="46" fill="#0000ff"/>
<rect x="79" y="485" width="1" height="46" fill="#0000ff"/>
<rect x="83" y="485" width="1" height="44" fill="#0000ff"/>
<rect x="87" y="485" width="1" height="44" fill="#0000ff"/>
<rect x="91" y="485" width="1" height="46" fill="#0000ff"/>
<rect x="95" y="485" width="1" height="40" fill="#0000ff"/>
<rect x="99" y="485" width="1" height="35" fill="#0000ff"/>
<rect x="103" y="485" width="1" height="32" fill="#0000ff"/>
<rect x="107" y="485" width="1" height="27" fill="#0000ff"/>
<rect x="111" y="485" width="1" height="24" fill="#0000ff"/>
<rect x="115" y="485" width="1" height="21" fill="#0000ff"/>
<rect x="119" y="485" width="1" height="21" fill="#0000ff"/>
<rect x="123" y="485" width="1" height="22" fill="#0000ff"/>
<rect x="127" y="485" width="1" height="24" fill="#0000ff"/>
<rect x="131" y="485" width="1" height="25" fill="#0000ff"/>
<rect x="135" y="485" width="1" height="25" fill="#0000ff"/>
<rect x="139" y="485" width="1" height="24" fill="#0000ff"/>
<rect x="143" y="485" width="1" height="23" fill="#0000ff"/>
<rect x="147" y="485" width="1" height="21" fill="#0000ff"/>
<rect x="151" y="485" width="1" height="20" fill="#0000ff"/>
<rect x="155" y="485" width="1" height="19" fill="#0000ff"/>
<rect x="159" y="485" width="1" height="17" fill="#0000ff"/>
<rect x="163" y="485" width="1" height="16" fill="#0000ff"/>
<rect x="167" y="485" width="1" height="15" fill="#0000ff"/>
<rect x="171" y="485" width="1" height="14" fill="#0000ff"/>
<rect x="175" y="485" width="1" height="14" fill="#0000ff"/>
<rect x="179" y="485" width="1" height="14" fill="#0000ff"/>
<rect x="183" y="485" width="1" height="14" fill="#0000ff"/>
<rect x="187" y="485" width="1" height="13" fill="#0000ff"/>
<rect x="191" y="485" width="1" height="13" fill="#0000ff"/>
<rect x="195" y="485" width="1" height="14" fill="#0000ff"/>
<rect x="199" y="485" width="1" height="15" fill="#0000ff"/>
<rect x="203" y="485" width="1" height="15" fill="#0000ff"/>
<rect x="207" y="485" width="1" height="16" fill="#0000ff"/>
<rect x="211" y="485" width="1" height="13" fill="#0000ff"/>
<rect x="215" y="485" width="1" height="12" fill="#0000ff"/>
<rect x="219" y="485" width="1" height="14" fill="#0000ff"/>
<rect x="223" y="485" width="1" height="16" fill="#0000ff"/>
<rect x="227" y="485" width="1" height="17" fill="#0000ff"/>
<rect x="231" y="485" width="1" height="19" fill="#0000ff"/>
<rect x="235" y="485" width="1" height="18" fill="#0000ff"/>
<rect x="239" y="485" width="1" height="15" fill="#0000ff"/>
<rect x="243" y="485" width="1" height="15" fill="#0000ff"/>
<rect x="247" y="485" width="1" height="15" fill="#0000ff"/>
<rect x="251" y="485" width="1" height="16" fill="#0000ff"/>
<rect x="255" y="485" width="1" height="19" fill="#0000ff"/>
<rect x="259" y="485" width="1" height="19" fill="#0000ff"/>
<rect x="263" y="485" width="1" height="20" fill="#0000ff"/>
<rect x="267" y="485" width="1" height="20" fill="#0000ff"/>
<rect x="271" y="485" width="1" height="19" fill="#0000ff"/>
<rect x="275" y="485" width="1" height="18" fill="#0000ff"/>
<rect x="279" y="485" width="1" height="17" fill="#0000ff"/>
<rect x="283" y="485" width="1" height="13" fill="#0000ff"/>
<rect x="287" y="485" width="1" height="12" fill="#0000ff"/>
<rect x="291" y="485" width="1" height="12" fill="#0000ff"/>
<rect x="295" y="485" width="1" height="10" fill="#0000ff"/>
<rect x="299" y="485" width="1" height="9" fill="#0000ff"/>
<rect x="303" y="485" width="1" height="8" fill="#0000ff"/>
<rect x="307" y="485" width="1" height="7" fill="#0000ff"/>
<rect x="311" y="485" width="1" height="7" fill="#0000ff"/>
<rect x="315" y="485" width="1" height="7" fill="#0000ff"/>
<rect x="319" y="485" width="1" height="7" fill="#0000ff"/>
<rect x="323" y="485" width="1" height="8" fill="#0000ff"/>
<rect x="327" y="485" width="1" height="8" fill="#0000ff"/>
<rect x="331" y="485" width="1" height="7" fill="#0000ff"/>
<rect x="335" y="485" width="1" height="6" fill="#0000ff"/>
<rect x="339" y="485" width="1" height="5" fill="#0000ff"/>
<rect x="343" y="485" width="1" height="5" fill="#0000ff"/>
<rect x="347" y="485" width="1" height="5" fill="#0000ff"/>
<rect x="351" y="485" width="1" height="5" fill="#0000ff"/>
<rect x="355" y="485" width="1" height="5" fill="#0000ff"/>
<rect x="359" y="485" width="1" height="5" fill="#0000ff"/>
<rect x="363" y="485" width="1" height="6" fill="#0000ff"/>
<rect x="367" y="485" width="1" height="7" fill="#0000ff"/>
<rect x="371" y="485" width="1" height="9" fill="#0000ff"/>
<rect x="375" y="485" width="1" height="10" fill="#0000ff"/>
<rect x="379" y="485" width="1" height="10" fill="#0000ff"/>
<rect x="383" y="485" width="1" height="12" fill="#0000ff"/>
<rect x="387" y="485" width="1" height="14" fill="#0000ff"/>
<rect x="391" y="485" width="1" height="17" fill="#0000ff"/>
<rect x="395" y="485" width="1" height="21" fill="#0000ff"/>
<rect x="399" y="485" width="1" height="23" fill="#0000ff"/>
<rect x="403" y="485" width="1" height="25" fill="#0000ff"/>
<rect x="407" y="485" width="1" height="27" fill="#0000ff"/>
<rect x="411" y="485" width="1" height="28" fill="#0000ff"/>
<rect x="415" y="485" width="1" height="30" fill="#0000ff"/>
<rect x="419" y="485" width="1" height="33" fill="#0000ff"/>
<rect x="423" y="485" width="1" height="32" fill="#0000ff"/>
<rect x="427" y="485" width="1" height="34" fill="#0000ff"/>
<rect x="431" y="485" width="1" height="34" fill="#0000ff"/>
<rect x="435" y="485" width="1" height="36" fill="#0000ff"/>
<rect x="439" y="485" width="1" height="35" fill="#0000ff"/>
<rect x="443" y="485" width="1" height="35" fill="#0000ff"/>
<rect x="447" y="485" width="1" height="31" fill="#0000ff"/>
<rect x="451" y="485" width="1" height="28" fill="#0000ff"/>
<rect x="455" y="485" width="1" height="25" fill="#0000ff"/>
<rect x="459" y="485" width="1" height="23" fill="#0000ff"/>
<rect x="463" y="485" width="1" height="23" fill="#0000ff"/>
<rect x="467" y="485" width="1" height="21" fill="#0000ff"/>
<rect x="471" y="485" width="1" height="19" fill="#0000ff"/>
<rect x="475" y="485" width="1" height="19" fill="#0000ff"/>
<rect x="479" y="485" width="1" height="19" fill="#0000ff"/>
<rect x="483" y="485" width="1" height="19" fill="#0000ff"/>
<rect x="487" y="485" width="1" height="17" fill="#0000ff"/>
<rect x="491" y="485" width="1" height="15" fill="#0000ff"/>
<rect x="495" y="485" width="1" height="12" fill="#0000ff"/>
<rect x="499" y="485" width="1" height="9" fill="#0000ff"/>
<rect x="503" y="485" width="1" height="7" fill="#0000ff"/>
<rect x="507" y="485" width="1" height="5" fill="#0000ff"/>
<rect x="511" y="485" width="1" height="3" fill="#0000ff"/>
<rect x="515" y="485" width="1" height="1" fill="#0000ff"/>
<rect x="523" y="485" width="1" height="1" fill="#0000ff"/>
<rect x="527" y="485" width="1" height="2" fill="#0000ff"/>
<rect x="531" y="485" width="1" height="2" fill="#0000ff"/>
<rect x="535" y="485" width="1" height="1" fill="#0000ff"/>
<rect x="539" y="485" width="1" height="1" fill="#0000ff"/>
<rect x="543" y="485" width="1" height="1" fill="#0000ff"/>
<rect x="547" y="485" width="1" height="1" fill="#0000ff"/>
<rect x="551" y="485" width="1" height="1" fill="#0000ff"/>
<rect x="555" y="485" width="1" height="1" fill="#0000ff"/>
<rect x="559" y="485" width="1" height="1" fill="#0000ff"/>
<rect x="563" y="485" width="1" height="6" fill="#0000ff"/>
<rect x="567" y="485" width="1" height="8" fill="#0000ff"/>
<rect x="571" y="485" width="1" height="11" fill="#0000ff"/>
<rect x="575" y="485" width="1" height="15" fill="#0000ff"/>
<rect x="579" y="485" width="1" height="15" fill="#0000ff"/>
<rect x="583" y="485" width="1" height="17" fill="#0000ff"/>
<rect x="587" y="485" width="1" height="20" fill="#0000ff"/>
<rect x="591" y="485" width="1" height="25" fill="#0000ff"/>
<rect x="595" y="485" width="1" height="29" fill="#0000ff"/>
<rect x="599" y="485" width="1" height="36" fill="#0000ff"/>
<rect x="603" y="485" width="1" height="41" fill="#0000ff"/>
<rect x="607" y="485" width="1" height="43" fill="#0000ff"/>
<rect x="611" y="485" width="1" height="48" fill="#0000ff"/>
<polyline points="3,492.5 7,491 11,490.3 17,488.8 23,488.4 29,489.4 35,491.8 39,493.4 43,495.3 47,497.4 51,500.3 59,503.9 63,506.7 71,511.7 75,516 83,521.7 87,524.6 95,527.4 99,528.6 107,525.3 115,519.6 123,515.3 131,511 139,509.1 147,508.6 155,507.4 163,505.7 171,503.9 179,501.7 187,498.9 195,498.1 220.6,498.1 227.4,501 249,500.6 255,502 277.7,502.4 291,501.7 299,498.9 307,497.1 315,495.3 323,493.4 331,492.9 339,492.4 350.9,491.4 365,491 379.4,491.4 383.4,493.4 387.4,494.6 395,497.1 403,501.4 411,505.3 419,509.1 427,513.1 435,516.3 443,518.6 451,518.1 459,516.7 467,513.4 475,510.3 483,507.4 491,504.3 499,501.7 507,498.9 515,495.3 523,491.4 531,487.1 539,485.3 547,484.6 557,484.6 563,485.5 571,488.1 579,491 587,495.7 595,501 603,509.1 611,515.7" fill="none" stroke="#ff0000" stroke-width="1" stroke-dasharray="3 3"/>
</g>
<g shape-rendering="crispEdges" fill="#000">
<rect x="2" y="2" width="635" height="1"/>
<rect x="2" y="330" width="635" height="1"/>
<rect x="2" y="2" width="1" height="329"/>
<rect x="636" y="2" width="1" height="329"/>
<rect x="2" y="332" width="635" height="1"/>
<rect x="2" y="396" width="635" height="1"/>
<rect x="2" y="332" width="1" height="65"/>
<rect x="636" y="332" width="1" height="65"/>
<rect x="2" y="398" width="635" height="1"/>
<rect x="2" y="477" width="635" height="1"/>
<rect x="2" y="398" width="1" height="80"/>
<rect x="636" y="398" width="1" height="80"/>
<rect x="2" y="479" width="635" height="1"/>
<rect x="2" y="536" width="635" height="1"/>
<rect x="2" y="479" width="1" height="58"/>
<rect x="636" y="479" width="1" height="58"/>
<rect x="637" y="17" width="2" height="1"/>
<rect x="637" y="66" width="2" height="1"/>
<rect x="637" y="115" width="2" height="1"/>
<rect x="637" y="164" width="2" height="1"/>
<rect x="637" y="213" width="2" height="1"/>
<rect x="637" y="262" width="2" height="1"/>
<rect x="637" y="311" width="2" height="1"/>
<rect x="637" y="334" width="1" height="1"/>
<rect x="637" y="395" width="1" height="1"/>
<rect x="637" y="400" width="1" height="1"/>
<rect x="637" y="476" width="1" height="1"/>
<rect x="637" y="481" width="1" height="1"/>
<rect x="637" y="485" width="1" height="1"/>
<rect x="637" y="534" width="1" height="1"/>
<rect x="3" y="537" width="1" height="3"/>
<rect x="99" y="537" width="1" height="3"/>
<rect x="195" y="537" width="1" height="3"/>
<rect x="291" y="537" width="1" height="3"/>
<rect x="387" y="537" width="1" height="3"/>
<rect x="483" y="537" width="1" height="3"/>
<rect x="579" y="537" width="1" height="3"/>
<rect x="6" y="10" width="9" height="1"/>
<rect x="7" y="11" width="7" height="1"/>
<rect x="8" y="12" width="5" height="1"/>
<rect x="9" y="13" width="3" height="1"/>
<rect x="10" y="14" width="1" height="1"/>
<rect x="638" y="205" width="56" height="14" fill="#ff0000"/>
<rect x="638" y="229" width="56" height="14" fill="#ff0000"/>
<rect x="638" y="249" width="56" height="14" fill="#ff0000"/>
<rect x="638" y="263" width="56" height="14" fill="#000"/>
<rect x="638" y="288" width="56" height="14" fill="#008000"/>
<rect x="638" y="305" width="56" height="14" fill="#008000"/>
</g>
<text x="20.98" y="17" textLength="71.25" lengthAdjust="spacingAndGlyphs" fill="#000">GBPUSD,M30</text>
<text x="101.56" y="17" textLength="45.04" lengthAdjust="spacingAndGlyphs" fill="#000">1.18521</text>
<text x="151.57" y="17" textLength="44.84" lengthAdjust="spacingAndGlyphs" fill="#000">1.18542</text>
<text x="201.44" y="17" textLength="45.87" lengthAdjust="spacingAndGlyphs" fill="#000">1.17576</text>
<text x="251.47" y="17" textLength="44.84" lengthAdjust="spacingAndGlyphs" fill="#000">1.17987</text>
<text x="6.54" y="348" textLength="43.62" lengthAdjust="spacingAndGlyphs" fill="#000">RSI(14)</text>
<text x="53.03" y="348" textLength="46.49" lengthAdjust="spacingAndGlyphs" fill="#000">19.1595</text>
<text x="107.9" y="348" textLength="47.23" lengthAdjust="spacingAndGlyphs" fill="#000">-&gt;MA(9)</text>
<text x="158.34" y="348" textLength="45.97" lengthAdjust="spacingAndGlyphs" fill="#000">25.1086</text>
<text x="6.49" y="414" textLength="72.32" lengthAdjust="spacingAndGlyphs" fill="#000">Stoch(5,3,3)</text>
<text x="82.36" y="414" textLength="45.25" lengthAdjust="spacingAndGlyphs" fill="#000">15.5866</text>
<text x="132.34" y="414" textLength="45.97" lengthAdjust="spacingAndGlyphs" fill="#000">12.7782</text>
<text x="6.58" y="495" textLength="85" lengthAdjust="spacingAndGlyphs" fill="#000">MACD(12,26,9)</text>
<text x="97.2" y="495" textLength="55.05" lengthAdjust="spacingAndGlyphs" fill="#000">-0.006907</text>
<text x="157.9" y="495" textLength="56.05" lengthAdjust="spacingAndGlyphs" fill="#000">-0.004385</text>
<text x="643.45" y="22" textLength="45.46" lengthAdjust="spacingAndGlyphs" fill="#000">1.33320</text>
<text x="643.45" y="71" textLength="45.46" lengthAdjust="spacingAndGlyphs" fill="#000">1.30320</text>
<text x="643.45" y="120" textLength="45.46" lengthAdjust="spacingAndGlyphs" fill="#000">1.27380</text>
<text x="643.45" y="169" textLength="45.46" lengthAdjust="spacingAndGlyphs" fill="#000">1.24380</text>
<text x="643.45" y="217" textLength="45.46" lengthAdjust="spacingAndGlyphs" fill="#fff">1.21564</text>
<text x="643.43" y="241" textLength="45.61" lengthAdjust="spacingAndGlyphs" fill="#fff">1.20118</text>
<text x="643.45" y="261" textLength="45.46" lengthAdjust="spacingAndGlyphs" fill="#fff">1.18860</text>
<text x="643.45" y="275" textLength="45.46" lengthAdjust="spacingAndGlyphs" fill="#fff">1.17987</text>
<text x="643.45" y="300" textLength="45.46" lengthAdjust="spacingAndGlyphs" fill="#fff">1.16517</text>
<text x="643.45" y="317" textLength="45.46" lengthAdjust="spacingAndGlyphs" fill="#fff">1.15476</text>
<text x="640.47" y="346" textLength="20.56" lengthAdjust="spacingAndGlyphs" fill="#000">100</text>
<text x="638.96" y="357" textLength="13.92" lengthAdjust="spacingAndGlyphs" fill="#000">70</text>
<text x="638.96" y="369" textLength="13.92" lengthAdjust="spacingAndGlyphs" fill="#000">50</text>
<text x="638.96" y="382" textLength="13.92" lengthAdjust="spacingAndGlyphs" fill="#000">30</text>
<text x="641" y="393" textLength="6.13" lengthAdjust="spacingAndGlyphs" fill="#000">0</text>
<text x="640.47" y="412" textLength="20.56" lengthAdjust="spacingAndGlyphs" fill="#000">100</text>
<text x="640" y="420" textLength="12.85" lengthAdjust="spacingAndGlyphs" fill="#000">80</text>
<text x="638.96" y="443" textLength="13.92" lengthAdjust="spacingAndGlyphs" fill="#000">50</text>
<text x="638.96" y="466" textLength="13.92" lengthAdjust="spacingAndGlyphs" fill="#000">20</text>
<text x="641" y="474" textLength="6.13" lengthAdjust="spacingAndGlyphs" fill="#000">0</text>
<text x="641" y="490" textLength="24.38" lengthAdjust="spacingAndGlyphs" fill="#000">0.00</text>
<text x="641" y="493" textLength="51.56" lengthAdjust="spacingAndGlyphs" fill="#000">0.000699</text>
<text x="641" y="533" textLength="47.88" lengthAdjust="spacingAndGlyphs" fill="#000">-0.00727</text>
<text x="2.48" y="552" textLength="68.41" lengthAdjust="spacingAndGlyphs" fill="#000">13 Mar 2020</text>
<text x="98.47" y="552" textLength="72.77" lengthAdjust="spacingAndGlyphs" fill="#000">16 Mar 00:30</text>
<text x="194.47" y="552" textLength="72.77" lengthAdjust="spacingAndGlyphs" fill="#000">16 Mar 12:30</text>
<text x="290.47" y="552" textLength="72.77" lengthAdjust="spacingAndGlyphs" fill="#000">17 Mar 00:30</text>
<text x="386.47" y="552" textLength="72.77" lengthAdjust="spacingAndGlyphs" fill="#000">17 Mar 12:30</text>
<text x="482.47" y="552" textLength="72.77" lengthAdjust="spacingAndGlyphs" fill="#000">18 Mar 00:30</text>
<text x="578.47" y="552" textLength="72.77" lengthAdjust="spacingAndGlyphs" fill="#000">18 Mar 12:30</text>
</svg>
</body></html>
